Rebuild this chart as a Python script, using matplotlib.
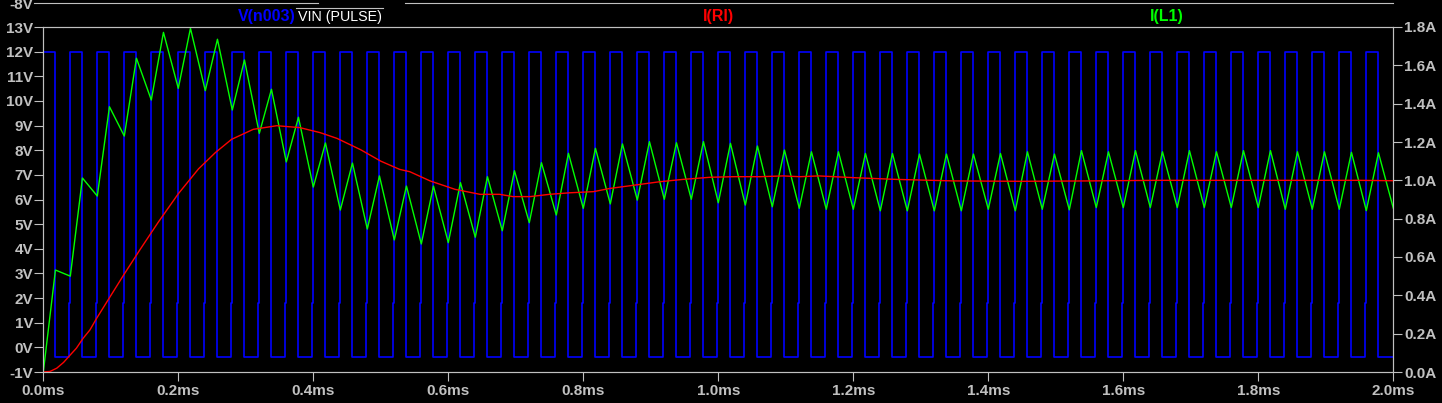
import numpy as np
import matplotlib
matplotlib.use("Agg")
import matplotlib.pyplot as plt
from matplotlib.lines import Line2D

plt.rcParams['font.family'] = ['Liberation Sans', 'DejaVu Sans']

# ---- data ---------------------------------------------------------------
# V(n003): PWM switch node, rising edges every 40 us, on for ~18 us
rise_ms = [0.00, 0.04, 0.08, 0.12, 0.16, 0.20, 0.24, 0.28, 0.32, 0.36,
           0.40, 0.44, 0.48, 0.52, 0.56, 0.60, 0.64, 0.68, 0.72, 0.76,
           0.80, 0.84, 0.88, 0.92, 0.96, 1.00, 1.04, 1.08, 1.12, 1.16,
           1.20, 1.24, 1.28, 1.32, 1.36, 1.40, 1.44, 1.48, 1.52, 1.56,
           1.60, 1.64, 1.68, 1.72, 1.76, 1.80, 1.84, 1.88, 1.92, 1.96]
t_on_ms = 0.018
v_high = 12.0
v_low = -0.4
v_prestep = 1.8      # short plateau just before each rising edge
prestep_ms = 0.0015

# I(L1): peak at the end of each on-time, valley at each rising edge
il_peak = [0.532, 1.012, 1.384, 1.637, 1.772, 1.793, 1.736, 1.628, 1.475, 1.329,
           1.195, 1.090, 1.023, 0.970, 0.970, 0.988, 1.019, 1.050, 1.092, 1.141,
           1.167, 1.190, 1.202, 1.196, 1.202, 1.193, 1.179, 1.158, 1.149, 1.149,
           1.140, 1.140, 1.137, 1.137, 1.137, 1.140, 1.149, 1.137, 1.155, 1.149,
           1.155, 1.149, 1.155, 1.149, 1.155, 1.155, 1.149, 1.149, 1.146, 1.144]
il_valley = [0.000, 0.500, 0.918, 1.231, 1.419, 1.480, 1.468, 1.367, 1.245, 1.096,
             0.965, 0.845, 0.746, 0.689, 0.668, 0.675, 0.703, 0.737, 0.779, 0.819,
             0.854, 0.877, 0.897, 0.901, 0.901, 0.883, 0.871, 0.862, 0.854, 0.849,
             0.849, 0.841, 0.841, 0.841, 0.841, 0.849, 0.841, 0.849, 0.846, 0.858,
             0.858, 0.858, 0.858, 0.858, 0.858, 0.858, 0.849, 0.849, 0.849, 0.842]
il_end = 0.855

# I(Rl): load current
rl_t = [0.000, 0.010, 0.020, 0.030, 0.042, 0.049, 0.059, 0.069, 0.079, 0.099,
        0.119, 0.143, 0.170, 0.200, 0.230, 0.255, 0.279, 0.311, 0.346, 0.380,
        0.410, 0.435, 0.470, 0.500, 0.528, 0.543, 0.573, 0.610, 0.647, 0.676,
        0.696, 0.721, 0.750, 0.780, 0.815, 0.840, 0.874, 0.914, 0.948, 0.988,
        1.022, 1.062, 1.096, 1.121, 1.149, 1.200, 1.263, 1.348, 1.450, 1.550,
        1.650, 1.750, 1.850, 1.950, 2.000]
rl_a = [0.000, 0.003, 0.020, 0.050, 0.097, 0.124, 0.176, 0.219, 0.280, 0.393,
        0.506, 0.637, 0.780, 0.930, 1.060, 1.145, 1.214, 1.266, 1.285, 1.275,
        1.249, 1.219, 1.160, 1.100, 1.057, 1.045, 0.997, 0.953, 0.927, 0.927,
        0.915, 0.915, 0.927, 0.935, 0.941, 0.958, 0.974, 0.993, 1.005, 1.016,
        1.019, 1.019, 1.023, 1.019, 1.023, 1.014, 1.005, 0.997, 0.995, 0.997,
        1.000, 1.000, 1.000, 1.000, 0.998]

v_ticks = list(range(-1, 14))
a_ticks = [0.0, 0.2, 0.4, 0.6, 0.8, 1.0, 1.2, 1.4, 1.6, 1.8]
t_ticks = [0.0, 0.2, 0.4, 0.6, 0.8, 1.0, 1.2, 1.4, 1.6, 1.8, 2.0]
t_end = 2.0

# ---- build waveforms ------------------------------------------------------
sw_t, sw_v = [0.0], [0.0]
for k, r in enumerate(rise_ms):
    if k > 0:
        sw_t += [r - prestep_ms, r - prestep_ms]
        sw_v += [v_low, v_prestep]
    sw_t += [r, r, r + t_on_ms, r + t_on_ms]
    sw_v += [v_prestep if k else 0.0, v_high, v_high, v_low]
sw_t.append(t_end)
sw_v.append(v_low)

il_t, il_v = [], []
for r, lo, hi in zip(rise_ms, il_valley, il_peak):
    il_t += [r, r + t_on_ms]
    il_v += [lo, hi]
il_t.append(t_end)
il_v.append(il_end)

# ---- figure ---------------------------------------------------------------
W, H = 1442, 403
fig = plt.figure(figsize=(W / 100, H / 100), dpi=100, facecolor='black')
x0, x1, ytop, ybot = 43.3, 1393.3, 27.0, 372.0
ax = fig.add_axes([x0 / W, 1 - ybot / H, (x1 - x0) / W, (ybot - ytop) / H])
ax.set_facecolor('black')
fg = '#c0c0c0'

ax.plot(sw_t, sw_v, color='#0000ff', lw=1.2)
ax.set_xlim(0, t_end)
ax.set_ylim(-1, 13)
ax.set_yticks(v_ticks)
ax.set_yticklabels([f"{v}V" for v in v_ticks])
ax.set_xticks(t_ticks)
ax.set_xticklabels([f"{t:.1f}ms" for t in t_ticks])

ax2 = ax.twinx()
ax2.plot(il_t, il_v, color='#00ff00', lw=1.0)
ax2.plot(rl_t, rl_a, color='#ff0000', lw=1.0)
ax2.set_ylim(0, 1.8)
ax2.set_yticks(a_ticks)
ax2.set_yticklabels([f"{a:.1f}A" for a in a_ticks])

for a in (ax, ax2):
    for s in a.spines.values():
        s.set_color(fg)
        s.set_linewidth(0.8)
    a.tick_params(colors=fg, labelcolor=fg, labelsize=11, width=0.8, length=6.5,
                  direction='out')
    for lab in a.get_xticklabels() + a.get_yticklabels():
        lab.set_fontweight('bold')
ax.tick_params(axis='y', pad=0.8)
ax.tick_params(axis='x', pad=2)
ax2.tick_params(axis='y', pad=1.5)

# ---- header strip (LTspice trace names) ----------------------------------
def fx(px):
    return px / W

def fy(py):
    return 1 - py / H

for xa, xb, yy in [(34, 318, 3), (405, 1393.3, 3), (296, 383, 8.3)]:
    fig.add_artist(Line2D([fx(xa), fx(xb)], [fy(yy), fy(yy)], color=fg, lw=0.8))

fig.text(fx(33), fy(9), "-8V", color=fg, fontsize=11, fontweight='bold',
         ha='right', va='baseline')
fig.text(fx(296), fy(21), "V(n003)", color='#0000ff', fontsize=11.5,
         fontweight='bold', ha='right', va='baseline')
fig.text(fx(297.5), fy(21), "VIN (PULSE)", color='white', fontsize=10.3,
         ha='left', va='baseline')
fig.text(fx(718), fy(21), "I(Rl)", color='#ff0000', fontsize=11.5,
         fontweight='bold', ha='center', va='baseline')
fig.text(fx(1167), fy(21), "I(L1)", color='#00ff00', fontsize=11.5,
         fontweight='bold', ha='center', va='baseline')

fig.savefig('out.png', dpi=100, facecolor='black')
